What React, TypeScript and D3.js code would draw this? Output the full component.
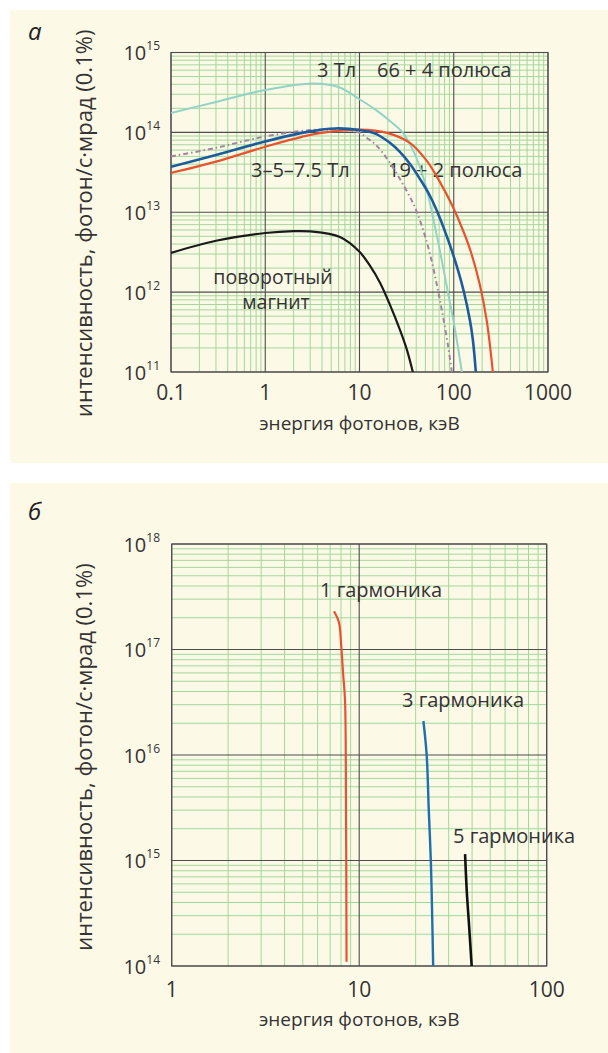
import * as d3 from 'd3'

const FONT = '"Open Sans", "Noto Sans", sans-serif'
const BG = '#fdf9e7'
const TEXT = '#333333'
const MAJOR = '#4d4d4d'
const MINOR = '#a2d89c'

// panel а
const TOP_X_TICKS = [0.1, 1, 10, 100, 1000]
const TOP_X_LABELS = ['0.1', '1', '10', '100', '1000']
const TOP_Y_EXP = [11, 12, 13, 14, 15]

const CYAN_E = [0.1, 0.3, 1, 3.2, 6, 10, 14.9, 21, 28.9, 36.8, 44.8, 51.8, 58.6, 71.2, 84.5, 102.7, 121.9]
const CYAN_I = [1.75e14, 2.4e14, 3.4e14, 4.1e14, 3.7e14, 2.6e14, 1.91e14, 1.39e14, 9.86e13, 6.04e13, 3.4e13, 1.91e13, 1.01e13, 3.3e12, 1.17e12, 3.5e11, 1e11]

const DOT_E = [0.1, 0.3, 1, 3, 5, 8, 10, 12, 14.9, 21, 34.2, 40.6, 49.4, 58.6, 67.8, 76.6, 86.6, 95.5]
const DOT_I = [5e13, 6.4e13, 8.9e13, 1.07e14, 1.08e14, 1.05e14, 9.86e13, 8.5e13, 6.98e13, 4.16e13, 1.56e13, 1.01e13, 5.1e12, 2.4e12, 1.07e12, 5.1e11, 2.2e11, 1e11]

const BLUE_E = [0.1, 0.3, 1, 3, 5.5, 10, 14.9, 21, 26.8, 34.2, 43.7, 55.8, 71.2, 90.9, 110.5, 128, 148.1, 159.4, 171.5]
const BLUE_I = [3.7e13, 5.2e13, 7.7e13, 1.03e14, 1.12e14, 1.07e14, 9.58e13, 7.4e13, 5.7e13, 4.04e13, 2.62e13, 1.61e13, 8.5e12, 3.9e12, 1.91e12, 1.01e12, 4.5e11, 2.55e11, 1e11]

const RED_E = [0.1, 0.3, 1, 3, 5, 10, 19.5, 34.2, 51.8, 71.2, 97.8, 124.9, 151.8, 189.2, 224.4, 259.8]
const RED_I = [3.1e13, 4.3e13, 6.6e13, 9.3e13, 1.02e14, 1.08e14, 9.86e13, 7.4e13, 4.4e13, 2.4e13, 1.17e13, 6e12, 3.2e12, 1.24e12, 4.3e11, 1e11]

const BM_E = [0.1, 0.3, 1, 2, 3, 6.2, 10, 12.9, 16.5, 21, 26.8, 31.8, 36.8]
const BM_I = [3.1e12, 4.4e12, 5.5e12, 5.8e12, 5.75e12, 4.9e12, 3.2e12, 2.14e12, 1.31e12, 6.98e11, 3.4e11, 1.91e11, 1e11]

// panel б
const BOT_X_TICKS = [1, 10, 100]
const BOT_X_LABELS = ['1', '10', '100']
const BOT_Y_EXP = [14, 15, 16, 17, 18]

const H1_E = [7.34, 7.8, 8.0, 8.2, 8.4, 8.5, 8.56]
const H1_I = [2.3e17, 1.8e17, 1.15e17, 6e16, 3.3e16, 3.7e15, 1.1e14]
const H3_E = [22.0, 22.9, 23.5, 24.1, 24.5, 24.8]
const H3_I = [2.1e16, 1e16, 3e15, 1e15, 3e14, 1e14]
const H5_E = [36.7, 37.5, 38.5, 39.8]
const H5_I = [1.15e15, 5e14, 2.5e14, 1e14]

type Series = { e: number[]; v: number[]; color: string; width: number; dash?: string }

type Label = { x: number; y: number; text: string; anchor?: string; size?: number }

type PanelProps = {
  id: string
  xDomain: [number, number]
  yExp: number[]
  xRange: [number, number]
  yRange: [number, number]
  xTicks: number[]
  xLabels: string[]
  series: Series[]
  labels: Label[]
  xTickY: number
  xTitleY: number
  yTitleX: number
  yTitleShift: number
}

function minorValues(lo: number, hi: number) {
  const out: number[] = []
  const a = Math.round(Math.log10(lo))
  const b = Math.round(Math.log10(hi))
  for (let d = a; d < b; d++) {
    for (let k = 2; k <= 9; k++) out.push(k * Math.pow(10, d))
  }
  return out
}

function Panel(p: PanelProps) {
  const yDomain: [number, number] = [Math.pow(10, p.yExp[0]), Math.pow(10, p.yExp[p.yExp.length - 1])]
  const x = d3.scaleLog().domain(p.xDomain).range(p.xRange)
  const y = d3.scaleLog().domain(yDomain).range(p.yRange)
  const [x0, x1] = p.xRange
  const [y0, y1] = p.yRange
  const line = d3
    .line<[number, number]>()
    .x(d => x(d[0]))
    .y(d => y(d[1]))
    .curve(d3.curveCatmullRom.alpha(0.5))

  const xMinor = minorValues(p.xDomain[0], p.xDomain[1])
  const yMinor = minorValues(yDomain[0], yDomain[1])
  const midY = (y0 + y1) / 2 + p.yTitleShift

  return (
    <g>
      <defs>
        <clipPath id={p.id}>
          <rect x={x0} y={y1} width={x1 - x0} height={y0 - y1} />
        </clipPath>
      </defs>
      {xMinor.map((v, i) => (
        <line key={'xm' + i} x1={x(v)} x2={x(v)} y1={y0} y2={y1} stroke={MINOR} strokeWidth={1} />
      ))}
      {yMinor.map((v, i) => (
        <line key={'ym' + i} x1={x0} x2={x1} y1={y(v)} y2={y(v)} stroke={MINOR} strokeWidth={1} />
      ))}
      {p.xTicks.map((v, i) => (
        <line key={'xM' + i} x1={x(v)} x2={x(v)} y1={y0} y2={y1} stroke={MAJOR} strokeWidth={1.1} />
      ))}
      {p.yExp.map((e, i) => (
        <line key={'yM' + i} x1={x0} x2={x1} y1={y(Math.pow(10, e))} y2={y(Math.pow(10, e))} stroke={MAJOR} strokeWidth={1.1} />
      ))}
      <rect x={x0} y={y1} width={x1 - x0} height={y0 - y1} fill="none" stroke={MAJOR} strokeWidth={1.1} />

      {p.labels.map((l, i) => (
        <text key={'l' + i} x={l.x} y={l.y} fontSize={l.size || 20} fill={TEXT} textAnchor={l.anchor || 'start'}>
          {l.text}
        </text>
      ))}

      <g clipPath={`url(#${p.id})`}>
        {p.series.map((s, i) => (
          <path
            key={'s' + i}
            d={line(s.e.map((e, j) => [e, s.v[j]] as [number, number])) || ''}
            fill="none"
            stroke={s.color}
            strokeWidth={s.width}
            strokeDasharray={s.dash}
            strokeLinejoin="round"
          />
        ))}
      </g>

      {p.xTicks.map((v, i) => (
        <text key={'xt' + i} x={x(v)} y={p.xTickY} fontSize={21} fill={TEXT} textAnchor="middle">
          {p.xLabels[i]}
        </text>
      ))}
      {p.yExp.map((e, i) => (
        <text key={'yt' + i} x={160} y={y(Math.pow(10, e)) + 7.5} fontSize={20} fill={TEXT} textAnchor="end">
          10
          <tspan fontSize={12} dy={-10}>{e}</tspan>
        </text>
      ))}
      <text x={(x0 + x1) / 2} y={p.xTitleY} fontSize={19} fill={TEXT} textAnchor="middle">
        энергия фотонов, кэВ
      </text>
      <text
        transform={`translate(${p.yTitleX},${midY}) rotate(-90)`}
        fontSize={22}
        fill={TEXT}
        textAnchor="middle"
      >
        интенсивность, фотон/с·мрад (0.1%)
      </text>
    </g>
  )
}

export default function App() {
  const topSeries: Series[] = [
    { e: CYAN_E, v: CYAN_I, color: '#92d3c6', width: 2 },
    { e: DOT_E, v: DOT_I, color: '#a2849f', width: 2, dash: '5 3 1.5 3' },
    { e: RED_E, v: RED_I, color: '#e8532e', width: 2.2 },
    { e: BLUE_E, v: BLUE_I, color: '#1d5c9c', width: 2.6 },
    { e: BM_E, v: BM_I, color: '#1a1a1a', width: 2.2 },
  ]
  const botSeries: Series[] = [
    { e: H1_E, v: H1_I, color: '#e8532e', width: 2.2 },
    { e: H3_E, v: H3_I, color: '#1d6fb0', width: 2.4 },
    { e: H5_E, v: H5_I, color: '#111111', width: 2.6 },
  ]
  return (
    <svg
      width={608}
      height={1053}
      style={{ position: 'absolute', left: 0, top: 0, fontFamily: FONT }}
    >
      <rect x={0} y={0} width={608} height={1053} fill="#ffffff" />
      <rect x={10} y={10} width={598} height={453} fill={BG} />
      <rect x={10} y={483} width={598} height={570} fill={BG} />
      <text x={28} y={40} fontSize={24} fontStyle="italic" fill="#222">а</text>
      <text x={28} y={520} fontSize={24} fontStyle="italic" fill="#222">б</text>
      <Panel
        id="clipA"
        xDomain={[0.1, 1000]}
        yExp={TOP_Y_EXP}
        xRange={[171, 548]}
        yRange={[372, 52.5]}
        xTicks={TOP_X_TICKS}
        xLabels={TOP_X_LABELS}
        series={topSeries}
        labels={[
          { x: 317, y: 77, text: '3 Тл' },
          { x: 377, y: 77, text: '66 + 4 полюса' },
          { x: 251, y: 177, text: '3–5–7.5 Тл' },
          { x: 388, y: 177, text: '19 + 2 полюса' },
          { x: 273, y: 284, text: 'поворотный', anchor: 'middle', size: 19.5 },
          { x: 276, y: 309, text: 'магнит', anchor: 'middle', size: 19.5 },
        ]}
        xTickY={400}
        xTitleY={430}
        yTitleX={92}
        yTitleShift={11}
      />
      <Panel
        id="clipB"
        xDomain={[1, 100]}
        yExp={BOT_Y_EXP}
        xRange={[171.7, 546.7]}
        yRange={[966, 544]}
        xTicks={BOT_X_TICKS}
        xLabels={BOT_X_LABELS}
        series={botSeries}
        labels={[
          { x: 320, y: 597, text: '1 гармоника' },
          { x: 402, y: 707, text: '3 гармоника' },
          { x: 453, y: 843, text: '5 гармоника' },
        ]}
        xTickY={997}
        xTitleY={1026}
        yTitleX={92}
        yTitleShift={2}
      />
    </svg>
  )
}
